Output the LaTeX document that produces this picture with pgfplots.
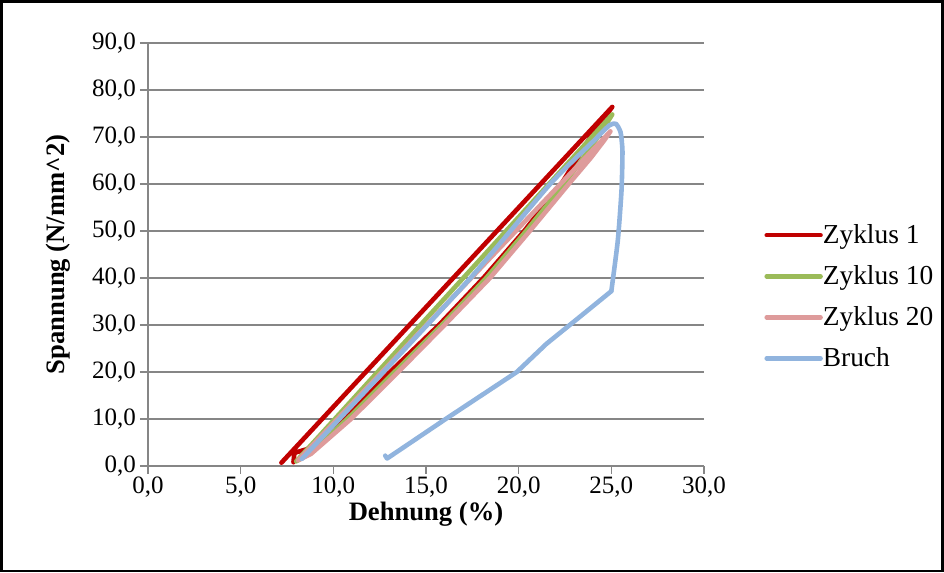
\documentclass[border=0pt]{standalone}
\usepackage{pgfplots}
\pgfplotsset{compat=1.18}
\usepackage{fontspec}
\setmainfont{Liberation Serif}
\definecolor{cred}{RGB}{192,0,0}
\definecolor{cgreen}{RGB}{155,187,89}
\definecolor{cpink}{RGB}{222,155,155}
\definecolor{cblue}{RGB}{145,180,222}
\definecolor{cgrid}{RGB}{134,134,134}
\begin{document}
\begin{tikzpicture}
\useasboundingbox (0,0) rectangle (472pt,286.5pt);
\draw[black,line width=1.1pt] (0.8pt,0.8pt) rectangle (471.2pt,285.7pt);
\begin{axis}[
  at={(74pt,53.5pt)}, anchor=south west,
  scale only axis, width=278pt, height=211.5pt,
  xmin=0, xmax=30, ymin=0, ymax=90,
  xtick={0,5,...,30}, ytick={0,10,...,90},
  axis x line*=bottom, axis y line*=left,
  axis line style={cgrid,line width=0.6pt,-},
  ymajorgrids, grid style={cgrid,line width=0.6pt},
  tick style={cgrid,line width=0.6pt},
  tick align=outside, major tick length=4pt,
  xtick pos=bottom, ytick pos=left,
  ticklabel style={font=\fontsize{12.5}{14}\selectfont},
  xticklabel style={yshift=2pt},
  yticklabel style={xshift=1.5pt},
  /pgf/number format/fixed, /pgf/number format/fixed zerofill,
  /pgf/number format/precision=1, /pgf/number format/use comma,
  /pgf/number format/assume math mode=true,
  xlabel={\textbf{Dehnung (\%)}},
  ylabel={\textbf{Spannung (N/mm\textasciicircum 2)}},
  every axis x label/.style={at={(axis description cs:0.5,0)},anchor=center,yshift=-24pt,font=\fontsize{13.3}{15}\selectfont},
  every axis y label/.style={at={(axis description cs:0,0.5)},anchor=center,rotate=90,yshift=45pt,font=\fontsize{13.3}{15}\selectfont},
  legend style={at={(rel axis cs:1.108,0.40)}, anchor=west, draw=none, fill=none,
    font=\fontsize{13.7}{15}\selectfont, row sep=9.5pt, inner sep=0pt, nodes={inner sep=0pt}},
  legend cell align=left,
  legend image code/.code={\draw[#1,line width=2.2pt] (0pt,0pt) -- (27pt,0pt);},
  every axis plot/.append style={line join=round, line cap=round},
]
% Zyklus 1
\addplot[cred, line width=2.3pt] coordinates {
 (7.2,0.7) (25.05,76.4) (24.6,74.0) (23.8,69.5) (22.3,60) (20.3,50) (18.1,40) (15.7,30) (13.06,20) (10.6,10) (8.6,3.6) (7.9,2.8) (7.85,0.8)};
\addlegendentry{Zyklus 1}
% Zyklus 10
\addplot[cgreen, line width=2.3pt] coordinates {
 (8.0,1.0) (25.05,74.8) (24.7,72.6) (23.9,67.8) (22.45,60) (20.4,50) (18.25,40) (15.85,30) (13.3,20) (10.75,10) (8.7,2.6) (8.0,1.0)};
\addlegendentry{Zyklus 10}
% Zyklus 20
\addplot[cpink, line width=2.3pt] coordinates {
 (8.1,1.2) (24.95,71.2) (24.6,69.2) (23.9,65.6) (22.7,60) (20.6,50) (18.45,40) (16.0,30) (13.5,20) (10.95,10) (8.8,2.6) (8.1,1.2)};
\addlegendentry{Zyklus 20}
% Bruch
\addplot[cblue, line width=2.3pt, smooth, tension=0.35] coordinates {
 (8.3,1.5) (12.7,20) (17.4,40) (21.7,60) (24.0,69) (24.9,72.5) (25.25,72.8) (25.5,71.0) (25.6,67) (25.55,58.7) (25.35,48) (25.0,37.2)};
\addplot[cblue, line width=2.3pt, forget plot] coordinates {
 (25.0,37.2) (23.1,31.1) (21.5,26) (19.9,20) (16.1,10.1) (12.9,1.6) (12.8,2.2)};
\addlegendentry{Bruch}
\end{axis}
\end{tikzpicture}
\end{document}
